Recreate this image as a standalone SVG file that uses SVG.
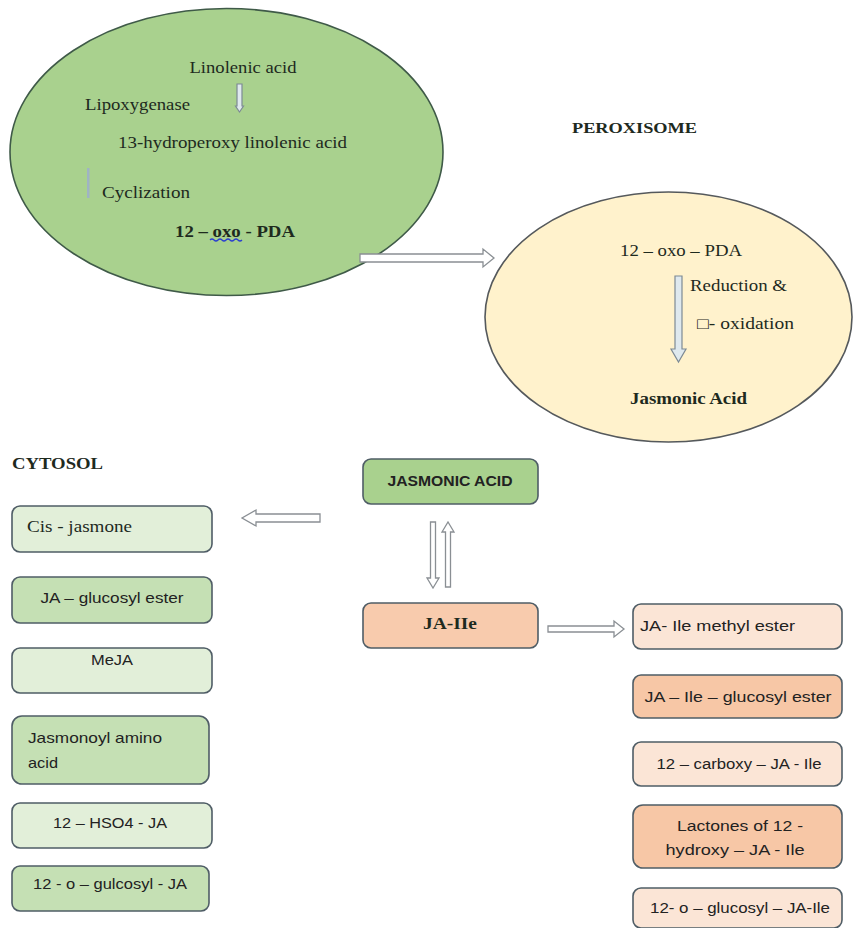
<svg xmlns="http://www.w3.org/2000/svg" width="854" height="928" viewBox="0 0 854 928">
<style>
.serif{font-family:"Liberation Serif","Times New Roman",serif;fill:#1e2a1e}
.sans{font-family:"Liberation Sans",Arial,sans-serif;fill:#222}
.b{font-weight:bold}
.box{stroke:#4f5d66;stroke-width:1.6}
.lg{fill:#E2EFD9}.mg{fill:#C5E0B4}.dg{fill:#A9D18E}
.lp{fill:#FBE5D6}.op{fill:#F7C7A6}.jp{fill:#F8CBAD}
.arr{fill:#ffffff;stroke:#8a8f94;stroke-width:1.3}
.arrb{fill:#dfe9ee;stroke:#7d8a94;stroke-width:1.2}
</style>
<rect width="854" height="928" fill="#ffffff"/>

<g id="chloroplast">
<ellipse cx="226.5" cy="152" rx="216.5" ry="143.5" fill="#A9D18E" stroke="#3f5a48" stroke-width="1.6"/>
<text class="serif" x="243" y="73" font-size="17" text-anchor="middle" textLength="107" lengthAdjust="spacingAndGlyphs">Linolenic acid</text>
<polygon class="arrb" points="237,84 242,84 242,106 243.5,106 239.5,112 235.5,106 237,106"/>
<text class="serif" x="85" y="110" font-size="17" textLength="105" lengthAdjust="spacingAndGlyphs">Lipoxygenase</text>
<text class="serif" x="118" y="148" font-size="17" textLength="229" lengthAdjust="spacingAndGlyphs">13-hydroperoxy linolenic acid</text>
<rect x="87" y="168" width="2.5" height="30" fill="#9fb3c4"/>
<text class="serif" x="102" y="198" font-size="17" textLength="88" lengthAdjust="spacingAndGlyphs">Cyclization</text>
<text class="serif b" x="175" y="237" font-size="17" textLength="120" lengthAdjust="spacingAndGlyphs">12 – oxo - PDA</text>
<path d="M210,240 q2,-2 4,0 t4,0 t4,0 t4,0 t4,0 t4,0 t4,0 t4,0" fill="none" stroke="#2a3fd0" stroke-width="1.3"/>
</g>

<g id="peroxisome">
<ellipse cx="668.5" cy="317" rx="183.5" ry="125" fill="#FFF2CC" stroke="#55595c" stroke-width="1.6"/>
<text class="serif b" x="572" y="133" font-size="15" textLength="125" lengthAdjust="spacingAndGlyphs">PEROXISOME</text>
<text class="serif" x="620" y="256" font-size="16" textLength="122" lengthAdjust="spacingAndGlyphs">12 – oxo – PDA</text>
<polygon class="arrb" points="675,276 682,276 682,349 686,349 678.5,362 671,349 675,349"/>
<text class="serif" x="690" y="291" font-size="16" textLength="97" lengthAdjust="spacingAndGlyphs">Reduction &amp;</text>
<text class="serif" x="697" y="329" font-size="16" textLength="97" lengthAdjust="spacingAndGlyphs">□- oxidation</text>
<text class="serif b" x="630" y="404" font-size="16" textLength="117" lengthAdjust="spacingAndGlyphs">Jasmonic Acid</text>
</g>

<g id="cytosol-label">
<text class="serif b" x="12" y="469" font-size="16" textLength="91" lengthAdjust="spacingAndGlyphs">CYTOSOL</text>
</g>

<g id="cis-jasmone">
<rect class="box lg" x="12" y="506" width="200" height="46" rx="8"/>
<text class="serif" x="27" y="532" font-size="16" textLength="105" lengthAdjust="spacingAndGlyphs">Cis - jasmone</text>
</g>
<g id="ja-glucosyl-ester">
<rect class="box mg" x="12" y="577" width="200" height="46" rx="8"/>
<text class="sans" x="112" y="603" font-size="15" text-anchor="middle" textLength="143" lengthAdjust="spacingAndGlyphs">JA – glucosyl ester</text>
</g>
<g id="meja">
<rect class="box lg" x="12" y="648" width="200" height="45" rx="8"/>
<text class="sans" x="112" y="665" font-size="15" text-anchor="middle" textLength="42" lengthAdjust="spacingAndGlyphs">MeJA</text>
</g>
<g id="jasmonoyl-amino-acid">
<rect class="box mg" x="12" y="716" width="197" height="68" rx="10"/>
<text class="sans" x="28" y="743" font-size="15" textLength="134" lengthAdjust="spacingAndGlyphs">Jasmonoyl amino</text>
<text class="sans" x="28" y="768" font-size="15" textLength="30" lengthAdjust="spacingAndGlyphs">acid</text>
</g>
<g id="hso4-ja">
<rect class="box lg" x="12" y="803" width="200" height="45" rx="8"/>
<text class="sans" x="110" y="828" font-size="15" text-anchor="middle" textLength="114" lengthAdjust="spacingAndGlyphs">12 – HSO4 - JA</text>
</g>
<g id="o-gulcosyl-ja">
<rect class="box mg" x="12" y="866" width="197" height="45" rx="8"/>
<text class="sans" x="110" y="889" font-size="15" text-anchor="middle" textLength="154" lengthAdjust="spacingAndGlyphs">12 - o – gulcosyl - JA</text>
</g>

<g id="jasmonic-acid">
<rect class="box dg" x="363" y="459" width="175" height="45" rx="8"/>
<text class="sans b" x="450" y="486" font-size="14" text-anchor="middle" textLength="125" lengthAdjust="spacingAndGlyphs">JASMONIC ACID</text>
</g>
<g id="ja-ile">
<rect class="box jp" x="363" y="603" width="175" height="45" rx="8"/>
<text class="serif b" x="450" y="629" font-size="16" text-anchor="middle" textLength="54" lengthAdjust="spacingAndGlyphs">JA-IIe</text>
</g>

<g id="ja-ile-methyl-ester">
<rect class="box lp" x="633" y="604" width="209" height="45" rx="8"/>
<text class="sans" x="640" y="631" font-size="14" textLength="155" lengthAdjust="spacingAndGlyphs">JA- Ile methyl ester</text>
</g>
<g id="ja-ile-glucosyl-ester">
<rect class="box op" x="633" y="675" width="209" height="43" rx="8"/>
<text class="sans" x="738" y="702" font-size="14" text-anchor="middle" textLength="187" lengthAdjust="spacingAndGlyphs">JA – Ile – glucosyl ester</text>
</g>
<g id="carboxy-ja-ile">
<rect class="box lp" x="633" y="742" width="209" height="44" rx="8"/>
<text class="sans" x="739" y="769" font-size="14" text-anchor="middle" textLength="165" lengthAdjust="spacingAndGlyphs">12 – carboxy – JA - Ile</text>
</g>
<g id="lactones">
<rect class="box op" x="633" y="805" width="209" height="63" rx="10"/>
<text class="sans" x="740" y="831" font-size="14" text-anchor="middle" textLength="126" lengthAdjust="spacingAndGlyphs">Lactones of 12 -</text>
<text class="sans" x="735" y="855" font-size="14" text-anchor="middle" textLength="139" lengthAdjust="spacingAndGlyphs">hydroxy – JA - Ile</text>
</g>
<g id="o-glucosyl-ja-ile">
<rect class="box lp" x="633" y="888" width="209" height="40" rx="8"/>
<text class="sans" x="740" y="913" font-size="14" text-anchor="middle" textLength="180" lengthAdjust="spacingAndGlyphs">12- o – glucosyl – JA-Ile</text>
</g>

<g id="connectors">
<polygon class="arr" points="360,254 483,254 483,249 494,258 483,267 483,262 360,262"/>
<polygon class="arr" points="320,514 256,514 256,510 242,518 256,526 256,522 320,522"/>
<polygon class="arr" points="430.5,522 435.5,522 435.5,578 439,578 433,588 427,578 430.5,578"/>
<polygon class="arr" points="445.5,587 450.5,587 450.5,532 454,532 448,522 442,532 445.5,532"/>
<polygon class="arr" points="548,626 614,626 614,621 624,629 614,637 614,632 548,632"/>
</g>
</svg>
